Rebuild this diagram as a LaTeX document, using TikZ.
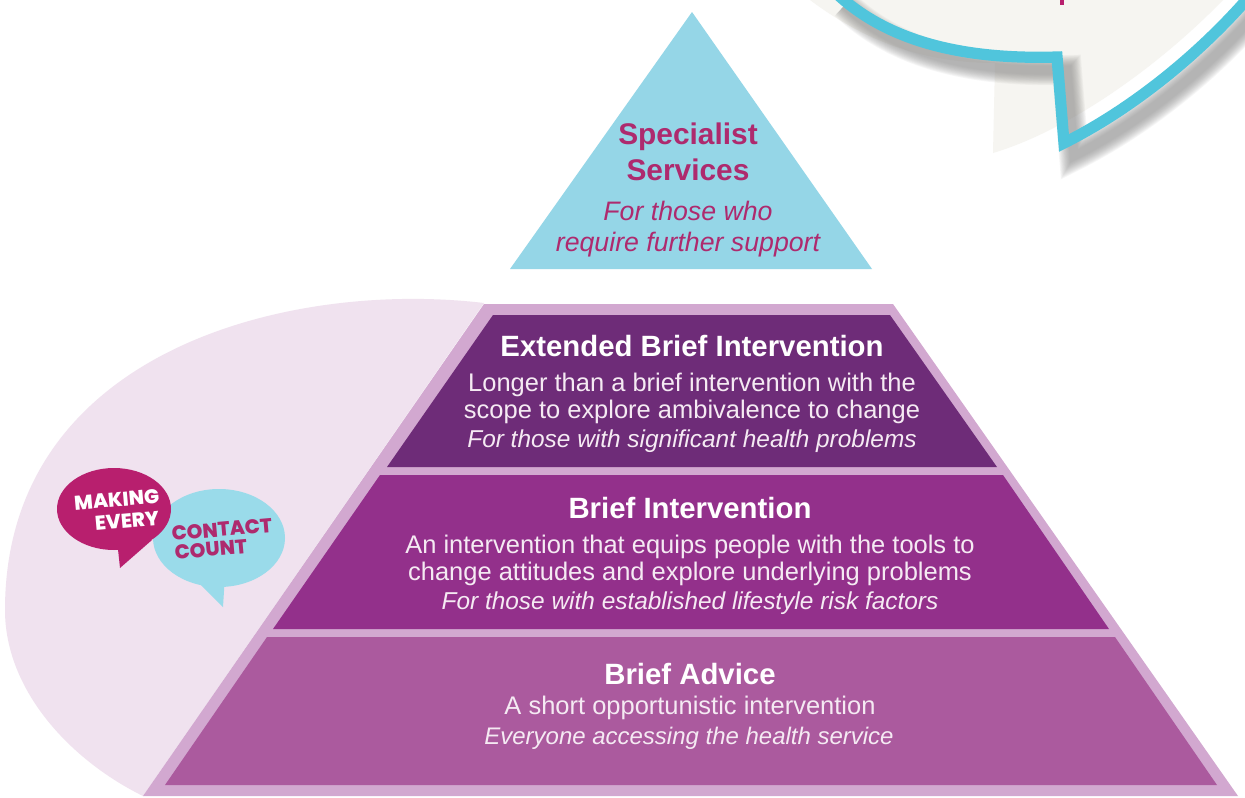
\documentclass[tikz,border=0pt]{standalone}
\usepackage{fontspec}
\setmainfont{Liberation Sans}
\newfontfamily\badgefont{Poppins ExtraBold}
\definecolor{bandtop}{HTML}{6E2C78}
\definecolor{bandmid}{HTML}{93308B}
\definecolor{bandlow}{HTML}{AB5A9E}
\definecolor{rim}{HTML}{D2A8D0}
\definecolor{halo}{HTML}{F0E2EF}
\definecolor{skyfill}{HTML}{95D6E7}
\definecolor{berry}{HTML}{B81F6E}
\definecolor{ink}{HTML}{AE2A6E}
\definecolor{strokeblue}{HTML}{50C5DC}
\definecolor{beige}{HTML}{F6F5F1}
\definecolor{pale}{HTML}{F5EAF3}
\definecolor{badgeblue}{HTML}{9ADBEA}
\tikzset{
  x=0.02cm,y=-0.02cm,
  headW/.style={anchor=base,text=white,font=\fontsize{16.7pt}{18pt}\selectfont\bfseries},
  bodyW/.style={anchor=base,text=pale,font=\fontsize{14.5pt}{16pt}\selectfont},
  noteW/.style={anchor=base,text=pale,font=\fontsize{13.9pt}{16pt}\selectfont\itshape},
  headS/.style={anchor=base,text=ink,font=\fontsize{17pt}{18pt}\selectfont\bfseries},
  noteS/.style={anchor=base,text=ink,font=\fontsize{15.2pt}{16pt}\selectfont\itshape},
  badge/.style={anchor=base east,inner sep=0pt,rotate=5,font=\fontsize{11.4pt}{12pt}\selectfont\badgefont},
}
\def\bubblepath{(835,-8) .. controls (885,40) and (960,60) .. (1057,57) -- (1064,143) .. controls (1130,110) and (1200,55) .. (1255,-10)}
\begin{document}
\begin{tikzpicture}
\useasboundingbox (0,0) rectangle (1245,798);
\fill[white] (0,0) rectangle (1245,798);
\begin{scope}
\clip (0,0) rectangle (1245,798);
% beige bubble interior
\fill[beige] (810,0) .. controls (870,45) and (930,63) .. (995,63) -- (993,153) .. controls (1070,130) and (1160,65) .. (1223,0) -- cycle;
% soft shadow
\begin{scope}[shift={(10,13)}]
\foreach \w in {17,16,15,14,13,12,11,10,9,8,7,6,5}{
  \draw[black!45,opacity=.07,line width=\w pt] \bubblepath;
}
\end{scope}
\draw[strokeblue,line width=6.4pt] \bubblepath;
\fill[berry] (1060,0) rectangle (1064,5);
\end{scope}
% halo behind pyramid
\fill[halo] (484,303) .. controls (290,280) and (5,350) .. (5,610) .. controls (5,690) and (70,760) .. (143,796) -- cycle;
% pyramid
\fill[rim] (484,304) -- (893,304) -- (1238,796) -- (143,796) -- cycle;
\fill[bandtop] (493,315) -- (890,315) -- (997,467) -- (387,467) -- cycle;
\fill[bandmid] (380,475) -- (1003,475) -- (1109,629) -- (273,629) -- cycle;
\fill[bandlow] (267,637) -- (1115,637) -- (1217,785) -- (165,785) -- cycle;
% top triangle
\fill[skyfill] (692,12) -- (872,269) -- (510,269) -- cycle;
% small bubbles
\fill[badgeblue] (219,538) ellipse [x radius=66, y radius=49];
\fill[badgeblue] (198,582) -- (223,607) -- (225,575) -- cycle;
\fill[berry] (114,509) ellipse [x radius=57, y radius=41];
\fill[berry] (117,540) -- (120,568) -- (152,540) -- cycle;
% texts
\node[badge,text=white] (mk) at (160,503) {MAKING};
\node[badge,text=white] (ev) at (160,525) {EVERY};
\node[badge,text=ink] (ct) at (273,532) {CONTACT};
\node[badge,text=ink] (cn) at (248,553) {COUNT};

\node[headS] (s1) at (688,144) {Specialist};
\node[headS] (s2) at (688,180) {Services};
\node[noteS] (s3) at (688,220) {For those who};
\node[noteS] (s4) at (688,251) {require further support};

\node[headW] (e1) at (692,356) {Extended Brief Intervention};
\node[bodyW] (e2) at (692,391) {Longer than a brief intervention with the};
\node[bodyW] (e3) at (692,418) {scope to explore ambivalence to change};
\node[noteW] (e4) at (692,447) {For those with significant health problems};

\node[headW] (b1) at (690,518) {Brief Intervention};
\node[bodyW] (b2) at (690,553) {An intervention that equips people with the tools to};
\node[bodyW] (b3) at (690,580) {change attitudes and explore underlying problems};
\node[noteW] (b4) at (690,609) {For those with established lifestyle risk factors};

\node[headW] (a1) at (690,684) {Brief Advice};
\node[bodyW] (a2) at (690,714) {A short opportunistic intervention};
\node[noteW,font=\fontsize{13.65pt}{16pt}\selectfont\itshape] (a3) at (689,744) {Everyone accessing the health service};
\end{tikzpicture}
\end{document}
